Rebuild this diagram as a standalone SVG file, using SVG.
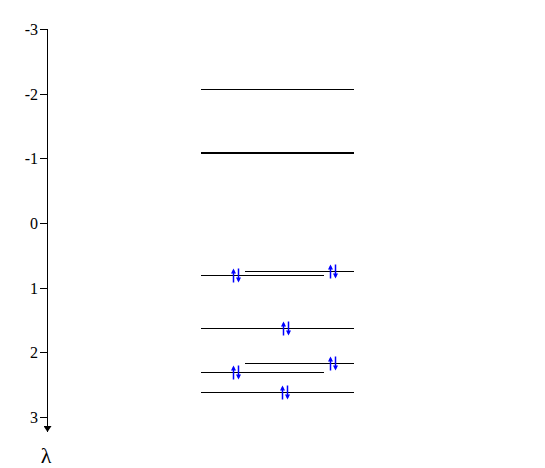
<svg xmlns="http://www.w3.org/2000/svg" width="545" height="468" viewBox="0 0 545 468">
<style>
.ax{stroke:#000;stroke-width:1;fill:none}
.lv{stroke:#000;stroke-width:1.2;fill:none}
.el{stroke:#0000ff;stroke-width:1.5;fill:none}
</style>
<defs>
<marker id="ah" viewBox="0 0 8 6" refX="4" refY="6" markerWidth="8" markerHeight="6" markerUnits="userSpaceOnUse" orient="0">
<path d="M0,0 L8,0 L4,6 Z" fill="#000"/>
</marker>
<g id="pair">
<line class="el" x1="0" y1="-5" x2="0" y2="7"/>
<path d="M-2.5,-2 L0,-7 L2.5,-2 Z" fill="#0000ff"/>
<line class="el" x1="5" y1="-7" x2="5" y2="5"/>
<path d="M2.5,2 L5,7 L7.5,2 Z" fill="#0000ff"/>
</g>
</defs>
<rect width="545" height="468" fill="#fff"/>
<g id="axis">
<line class="ax" x1="47.5" y1="29" x2="47.5" y2="432" marker-end="url(#ah)"/>
<g class="ax">
<line x1="40" y1="29.5" x2="47" y2="29.5"/>
<line x1="40" y1="94.5" x2="47" y2="94.5"/>
<line x1="40" y1="158.5" x2="47" y2="158.5"/>
<line x1="40" y1="223.5" x2="47" y2="223.5"/>
<line x1="40" y1="288.5" x2="47" y2="288.5"/>
<line x1="40" y1="352.5" x2="47" y2="352.5"/>
<line x1="40" y1="417.5" x2="47" y2="417.5"/>
</g>
<g font-family="'Liberation Serif', serif" font-size="16" fill="#000" text-anchor="end">
<text x="38" y="35">-3</text>
<text x="38" y="100">-2</text>
<text x="38" y="164">-1</text>
<text x="38" y="229">0</text>
<text x="38" y="294">1</text>
<text x="38" y="358">2</text>
<text x="38" y="423">3</text>
</g>
<text x="46" y="463" font-family="'Liberation Serif', serif" font-size="22" fill="#000" text-anchor="middle">λ</text>
</g>
<g id="levels">
<line class="lv" x1="201" y1="89.5" x2="354" y2="89.5"/>
<line x1="201" y1="153" x2="354" y2="153" stroke="#000" stroke-width="2"/>
<line class="lv" x1="245" y1="271.5" x2="354" y2="271.5"/>
<line class="lv" x1="201" y1="275.5" x2="324" y2="275.5"/>
<line class="lv" x1="201" y1="328.5" x2="354" y2="328.5"/>
<line class="lv" x1="245" y1="363.5" x2="354" y2="363.5"/>
<line class="lv" x1="201" y1="372.5" x2="324" y2="372.5"/>
<line class="lv" x1="201" y1="392.5" x2="354" y2="392.5"/>
</g>
<g id="electrons">
<use href="#pair" x="233.5" y="275.5"/>
<use href="#pair" x="330.5" y="271.5"/>
<use href="#pair" x="283.5" y="328.5"/>
<use href="#pair" x="330.5" y="363.5"/>
<use href="#pair" x="233.5" y="372.5"/>
<use href="#pair" x="282.5" y="392.5"/>
</g>
</svg>
